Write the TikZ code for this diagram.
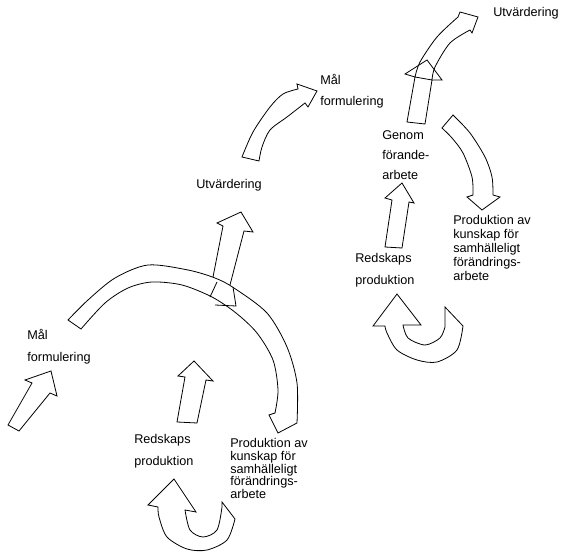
\documentclass[tikz,border=0pt]{standalone}
\usepackage{fontspec}
\setmainfont{Liberation Sans}
\begin{document}
\begin{tikzpicture}[x=0.75pt,y=-0.75pt,
  blk/.style={draw,line width=0.6pt,line join=miter},
  lbl/.style={anchor=north west,inner sep=0pt,align=left,font=\fontsize{9.5}{10.5}\selectfont},
  lblwide/.style={lbl,font=\fontsize{9.5}{15.5}\selectfont}]
\useasboundingbox (0,0) rectangle (561,552);

% lower-left straight arrow
\draw[blk] (8,425) -- (32,383) -- (25,380) -- (51,371) -- (57,396) -- (50,393) -- (19,431) -- cycle;

% big arc arrow
\draw[blk] plot[smooth] coordinates {(68,320) (88,300) (115,278) (148,265) (188,270) (215,278) (234,288) (267,313) (287,347) (297,383) (297,423)}
  -- (278,433) -- (269,415)
  -- plot[smooth] coordinates {(275,413) (278,390) (273,360) (257,333) (236,313) (212,297) (182,285) (152,282) (128,288) (105,303) (81,329)}
  -- cycle;

% Utvaerdering up arrow (lower cluster)
\draw[blk] (213,277) -- (223,226) -- (217,223) -- (241,212) -- (253,232) -- (244,231) -- (230,285);
\draw[blk] (217,282) -- (210,297);
\draw[blk] (233,287) -- (236,306) -- (215,305);

% middle up arrow (lower cluster)
\draw[blk] (177,422) -- (185,377) -- (178,376) -- (194,361) -- (213,381) -- (206,380) -- (197,423) -- cycle;

% lower U-turn
\draw[blk] (148,505) -- (174,479) -- (196,512)
  -- plot[smooth] coordinates {(185,510) (190,530) (203,537) (217,530) (222,507)}
  -- (222,502) -- (235,519)
  -- plot[smooth] coordinates {(235,519) (227,540) (207,550) (187,549) (167,537) (159,517) (158,507)}
  -- cycle;

% upper curved arrow to Mal formulering
\draw[blk] plot[smooth] coordinates {(242,157) (253,132) (270,107) (283,94) (298,89)}
  -- (297,84) -- (317,91) -- (308,107)
  -- plot[smooth] coordinates {(305,103) (287,117) (270,130) (262,147) (259,161)}
  -- cycle;

% upper up arrow (Genom)
\draw[blk] (407,122) -- (415,77) -- (405,74) -- (427,60) -- (442,80) -- (432,80) -- (425,124) -- cycle;

% top right curved arrow
\draw[blk] plot[smooth] coordinates {(415,77) (420,62) (437,37) (458,17)}
  -- (460,12) -- (478,17) -- (472,33)
  -- plot[smooth] coordinates {(470,30) (450,43) (435,67) (432,80)}
  -- cycle;

% curved down arrow
\draw[blk] plot[smooth] coordinates {(453,115) (470,133) (485,157) (492,177) (493,195)}
  -- (500,197) -- (482,210) -- (467,197)
  -- plot[smooth] coordinates {(473,195) (472,177) (463,153) (452,138) (442,128)}
  -- cycle;

% lower up arrow (upper cluster)
\draw[blk] (385,247) -- (392,200) -- (385,198) -- (402,183) -- (414,203) -- (409,202) -- (402,248) -- cycle;

% upper U-turn
\draw[blk] (373,326) -- (397,294) -- (421,325)
  -- plot[smooth] coordinates {(403,325) (408,338) (425,345) (440,338) (445,327)}
  -- (445,307) -- (463,326)
  -- plot[smooth] coordinates {(463,326) (457,350) (437,362) (417,360) (397,350) (387,333) (385,326)}
  -- cycle;

% labels
\node[lbl] (utv1) at (493,7.5) {Utvärdering};
\node[lblwide] (mal1) at (320,74) {Mål\\formulering};
\node[lbl] (utv2) at (196,179) {Utvärdering};
\node[lbl,font=\fontsize{9.5}{15}\selectfont] (genom) at (382,130.5) {Genom\\förande-\\arbete};
\node[lbl] (prod1) at (453,215.5) {Produktion av\\kunskap för\\samhälleligt\\förändrings-\\arbete};
\node[lbl,font=\fontsize{9.5}{16.5}\selectfont] (red1) at (355,253) {Redskaps\\produktion};
\node[lbl,font=\fontsize{9.5}{16.5}\selectfont] (mal2) at (27,329) {Mål\\formulering};
\node[lbl,font=\fontsize{9.5}{16.5}\selectfont] (red2) at (134,434.5) {Redskaps\\produktion};
\node[lbl,font=\fontsize{9.5}{9.6}\selectfont] (prod2) at (230,438) {Produktion av\\kunskap för\\samhälleligt\\förändrings-\\arbete};
\end{tikzpicture}
\end{document}
